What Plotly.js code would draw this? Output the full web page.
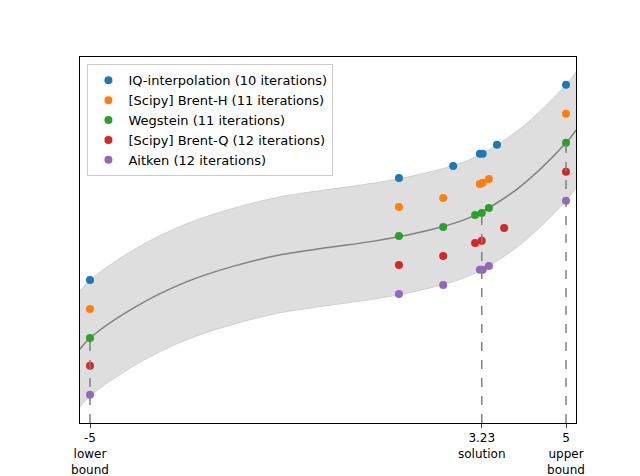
<!DOCTYPE html>
<html>
<head>
<script src="https://cdn.plot.ly/plotly-3.0.1.min.js"></script>
<style>body{margin:0}</style>
</head>
<body>
<div id="chart" style="width:640px;height:476px"></div>
<script>
// curve (arbitrary y units, no y ticks shown)
var curveX = [-5.21, -5, -4, -3, -2, -1, 0, 1, 2, 3, 4, 5, 5.21];
var curveY = [2.55, 2.93, 4.05, 4.85, 5.4, 5.8, 6.05, 6.28, 6.6, 7.1, 8.1, 9.66, 10.1];
var bandHalf = 2;

var names = ['IQ-interpolation (10 iterations)', '[Scipy] Brent-H (11 iterations)',
  'Wegstein (11 iterations)', '[Scipy] Brent-Q (12 iterations)', 'Aitken (12 iterations)'];
var colors = ['#1f77b4', '#ff7f0e', '#2ca02c', '#d62728', '#9467bd'];
var xs = [
  [-5, 1.49, 2.63, 3.19, 3.25, 3.55, 5],
  [-5, 1.49, 2.42, 3.19, 3.25, 3.38, 5],
  [-5, 1.49, 2.42, 3.09, 3.23, 3.38, 5],
  [-5, 1.49, 2.42, 3.09, 3.23, 3.70, 5],
  [-5, 1.49, 2.42, 3.19, 3.25, 3.38, 5]
];
var ys = [
  [4.93, 8.45, 8.86, 9.28, 9.28, 9.59, 11.66],
  [3.93, 7.45, 7.76, 8.24, 8.28, 8.41, 10.66],
  [2.93, 6.45, 6.76, 7.17, 7.24, 7.41, 9.66],
  [1.97, 5.45, 5.76, 6.21, 6.28, 6.72, 8.66],
  [0.97, 4.45, 4.76, 5.28, 5.28, 5.41, 7.66]
];
var tickVals = [-5, 3.23, 5];
var tickText = ['-5<br>lower<br>bound', '3.23<br>solution', '5<br>upper<br>bound'];
var markY = [2.93, 7.24, 9.66];

var upper = curveY.map(function (v) { return v + bandHalf; });
var lower = curveY.map(function (v) { return v - bandHalf; });

var data = [
  {x: curveX, y: lower, mode: 'lines', line: {width: 0.8, color: '#c8c8c8', shape: 'spline'}, showlegend: false, hoverinfo: 'skip'},
  {x: curveX, y: upper, mode: 'lines', fill: 'tonexty', fillcolor: 'rgba(200,200,200,0.6)', line: {width: 0.8, color: '#c8c8c8', shape: 'spline'}, showlegend: false, hoverinfo: 'skip'},
  {x: curveX, y: curveY, mode: 'lines', line: {color: 'grey', width: 1.5, shape: 'spline'}, showlegend: false}
];
for (var i = 0; i < names.length; i++) {
  data.push({x: xs[i], y: ys[i], mode: 'markers', name: names[i],
    marker: {color: colors[i], size: 8}});
}

var shapes = tickVals.map(function (v, k) {
  return {type: 'line', x0: v, x1: v, y0: 0, y1: markY[k], xref: 'x', yref: 'y',
    line: {color: 'grey', width: 1.5, dash: 'dash'}};
});

Plotly.newPlot('chart', data, {
  width: 640, height: 476,
  margin: {l: 80, r: 64, t: 57, b: 53},
  paper_bgcolor: 'white', plot_bgcolor: 'white',
  font: {family: 'DejaVu Sans', size: 12, color: 'black'},
  xaxis: {range: [-5.21, 5.21], tickvals: tickVals, ticktext: tickText, ticks: 'outside',
    ticklen: 4, showgrid: false, zeroline: false, showline: true, mirror: true, linecolor: 'black'},
  yaxis: {range: [0, 12.62], showticklabels: false, showgrid: false, zeroline: false,
    showline: true, mirror: true, linecolor: 'black'},
  legend: {x: 0.015, y: 0.98, xanchor: 'left', yanchor: 'top', bordercolor: '#ccc', borderwidth: 1,
    bgcolor: 'rgba(255,255,255,0.8)', font: {size: 13}, traceorder: 'normal'},
  shapes: shapes,
  showlegend: true
}, {displayModeBar: false});
</script>
</body>
</html>
